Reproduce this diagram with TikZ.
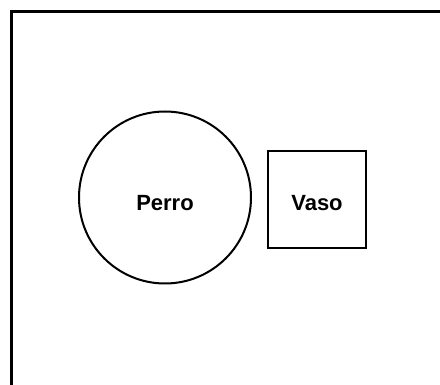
\documentclass[tikz,border=0pt]{standalone}
\usepackage{fontspec}
\setmainfont{Liberation Sans}
\usetikzlibrary{positioning}
\tikzset{
    frame/.style = {line width = 3pt},
    thing/.style = {draw, line width = 2pt, font = \fontsize{22}{26}\selectfont\bfseries,
                    text depth = 0pt},
    animal/.style = {thing, circle, minimum size = 172pt, inner sep = 0pt, text height = 27pt},
    object/.style = {thing, rectangle, minimum width = 98pt, minimum height = 97pt,
                     inner sep = 0pt, text height = 23pt},
}

\begin{document}
\begin{tikzpicture}[x=1pt, y=-1pt]
    \useasboundingbox (0,0) rectangle (440,385);

    \coordinate (corner) at (11.5,11.5);
    \coordinate (topend) at (440,11.5);
    \coordinate (leftend) at (11.5,385);
    \draw [frame] (topend) -- (corner) -- (leftend);

    \node (perro) [animal] at (165,197.5) {Perro};
    \node (vaso) [object] at (317,199.5) {Vaso};
\end{tikzpicture}
\end{document}
